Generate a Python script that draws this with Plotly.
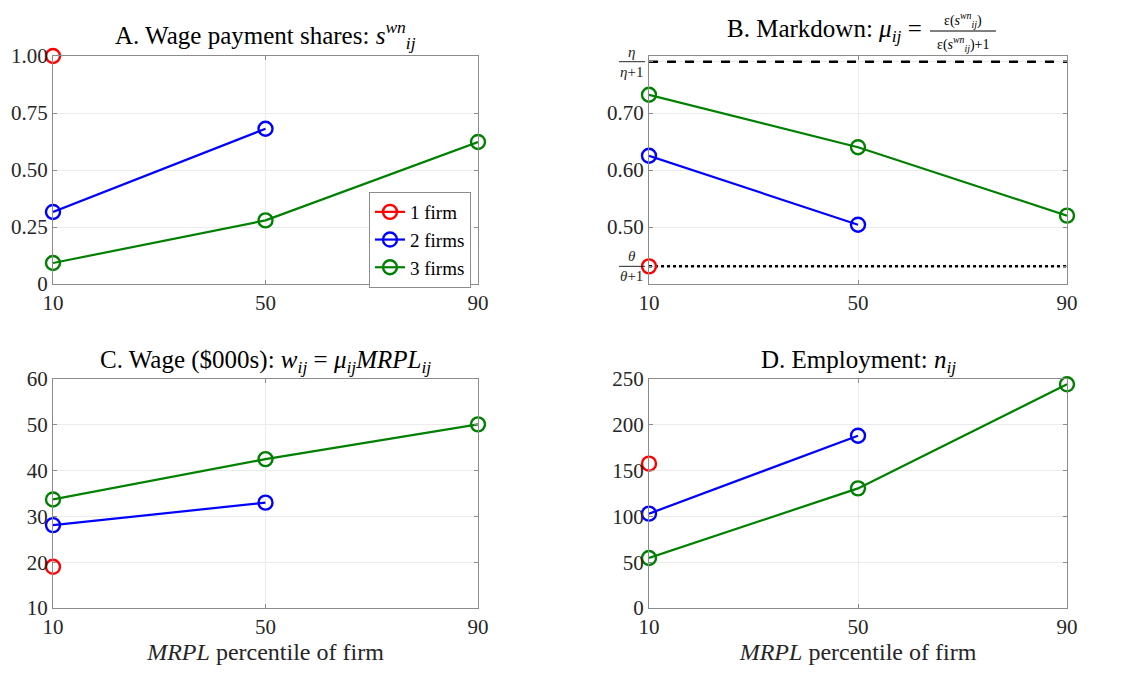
import plotly.graph_objects as go

# ---------------- data ----------------
percentiles = [10, 50, 90]
x_ticks = [10, 50, 90]

# Panel A: wage payment shares
shares_1 = [1.00]
shares_2 = [0.316, 0.681]
shares_3 = [0.092, 0.279, 0.623]

# Panel B: markdown
markdown_1 = [0.431]
markdown_2 = [0.625, 0.504]
markdown_3 = [0.732, 0.640, 0.520]
eta_bound = 0.79
theta_bound = 0.431

# Panel C: wage ($000s)
wage_1 = [19.0]
wage_2 = [28.1, 33.0]
wage_3 = [33.7, 42.5, 50.1]

# Panel D: employment
emp_1 = [157.6]
emp_2 = [103.0, 188.1]
emp_3 = [54.6, 130.6, 244.2]

series_names = ["1 firm", "2 firms", "3 firms"]
colors = ["#ff0000", "#0000ff", "#008000"]

FONT = "Liberation Serif"
OFF = 8                     # page body margin
W, H = 1129 - OFF, 673 - OFF

fig = go.Figure()

panels = [
    ("x", "y", [shares_1, shares_2, shares_3]),
    ("x2", "y2", [markdown_1, markdown_2, markdown_3]),
    ("x3", "y3", [wage_1, wage_2, wage_3]),
    ("x4", "y4", [emp_1, emp_2, emp_3]),
]

# reference lines in panel B
fig.add_trace(go.Scatter(x=[percentiles[0], percentiles[-1]], y=[eta_bound, eta_bound],
                         mode="lines", line=dict(color="black", width=2.5, dash="dash"),
                         xaxis="x2", yaxis="y2", showlegend=False, hoverinfo="skip"))
fig.add_trace(go.Scatter(x=[percentiles[0], percentiles[-1]], y=[theta_bound, theta_bound],
                         mode="lines", line=dict(color="black", width=2.5, dash="dot"),
                         xaxis="x2", yaxis="y2", showlegend=False, hoverinfo="skip"))

for pi, (xa, ya, data) in enumerate(panels):
    for si, vals in enumerate(data):
        fig.add_trace(go.Scatter(
            x=percentiles[:len(vals)], y=vals, mode="lines+markers",
            name=series_names[si],
            line=dict(color=colors[si], width=2.2),
            marker=dict(symbol="circle-open", size=14, color=colors[si],
                        line=dict(width=2.4, color=colors[si])),
            xaxis=xa, yaxis=ya, showlegend=(pi == 0), cliponaxis=False))


def px(a):
    return (a - OFF) / W


def py(a):
    return 1 - (a - OFF) / H


def dx(a, b):
    return [px(a), px(b)]


def dy(top, bot):
    return [py(bot), py(top)]


axis_common = dict(showline=True, linecolor="#8c8c8c", linewidth=1, mirror="allticks",
                   ticks="inside", ticklen=4, tickcolor="#8c8c8c", automargin=False,
                   showgrid=True, gridcolor="#ebebeb", gridwidth=1,
                   zeroline=False, tickfont=dict(family=FONT, size=21, color="#262626"))

xcommon = dict(axis_common, range=[10, 90], tickvals=x_ticks, ticktext=[str(t) for t in x_ticks])
xtitle = dict(text="<i>MRPL</i> percentile of firm", font=dict(family=FONT, size=24, color="#262626"),
              standoff=4)

fig.update_layout(
    template="none",
    width=W, height=H,
    margin=dict(l=0, r=0, t=0, b=0, autoexpand=False),
    paper_bgcolor="white", plot_bgcolor="white",
    font=dict(family=FONT, size=18, color="black"),
    xaxis=dict(xcommon, domain=dx(53, 478), anchor="y"),
    yaxis=dict(axis_common, domain=dy(56, 284), anchor="x", range=[0, 1.0],
               tickvals=[0, 0.25, 0.5, 0.75, 1.0], ticktext=["0", "0.25", "0.50", "0.75", "1.00"]),
    xaxis2=dict(xcommon, domain=dx(649, 1067), anchor="y2"),
    yaxis2=dict(axis_common, domain=dy(56, 284), anchor="x2", range=[0.40, 0.80],
                tickvals=[theta_bound, 0.5, 0.6, 0.7, eta_bound],
                ticktext=["", "0.50", "0.60", "0.70", ""]),
    xaxis3=dict(xcommon, domain=dx(53, 478), anchor="y3", title=xtitle),
    yaxis3=dict(axis_common, domain=dy(379, 608), anchor="x3", range=[10, 60],
                tickvals=[10, 20, 30, 40, 50, 60]),
    xaxis4=dict(xcommon, domain=dx(649, 1067), anchor="y4", title=xtitle),
    yaxis4=dict(axis_common, domain=dy(379, 608), anchor="x4", range=[0, 250],
                tickvals=[0, 50, 100, 150, 200, 250]),
    legend=dict(x=px(471), y=py(192), xanchor="right", yanchor="top",
                bgcolor="white", bordercolor="#8c8c8c", borderwidth=1,
                font=dict(family=FONT, size=19, color="black"),
                itemwidth=30, tracegroupgap=0),
)

TF = dict(family=FONT, size=25, color="black")
titles = [
    (265.5, 35, "A. Wage payment shares: <i>s</i><sup><i>wn</i></sup><sub><i>ij</i></sub>", "center"),
    (924, 31, "B. Markdown: <i>μ</i><sub><i>ij</i></sub> =", "right"),
    (265.5, 361, "C. Wage ($000s): <i>w</i><sub><i>ij</i></sub> = <i>μ</i><sub><i>ij</i></sub><i>MRPL</i><sub><i>ij</i></sub>", "center"),
    (858, 361, "D. Employment: <i>n</i><sub><i>ij</i></sub>", "center"),
]
for x, y, t, anc in titles:
    fig.add_annotation(x=px(x), y=py(y), xref="paper", yref="paper", text=t, showarrow=False,
                       xanchor=anc, yanchor="middle", font=TF)

# stacked fraction in title B
SF = dict(family=FONT, size=14, color="black")
s_wn = "ε(<i>s</i><sup><i>wn</i></sup><sub><i>ij</i></sub>)"
BAR_Y = 31
fig.add_annotation(x=px(963), y=py(BAR_Y), xref="paper", yref="paper", text=s_wn,
                   showarrow=False, xanchor="center", yanchor="bottom", yshift=-1, font=SF)
fig.add_annotation(x=px(963), y=py(BAR_Y), xref="paper", yref="paper", text=s_wn + "+1",
                   showarrow=False, xanchor="center", yanchor="top", yshift=-1, font=SF)
fig.add_shape(type="line", xref="paper", yref="paper", x0=px(930), x1=px(996),
              y0=py(BAR_Y), y1=py(BAR_Y), line=dict(color="black", width=1))

# stacked fraction tick labels in panel B
FF = dict(family=FONT, size=15, color="#262626")
for val, sym in [(eta_bound, "η"), (theta_bound, "θ")]:
    fig.add_annotation(x=px(632), y=val, xref="paper", yref="y2", text="<i>%s</i>" % sym,
                       showarrow=False, xanchor="center", yanchor="bottom", yshift=0, font=FF)
    fig.add_annotation(x=px(632), y=val, xref="paper", yref="y2", text="<i>%s</i>+1" % sym,
                       showarrow=False, xanchor="center", yanchor="top", yshift=0, font=FF)
    fig.add_shape(type="line", xref="paper", yref="y2", x0=px(619), x1=px(645),
                  y0=val, y1=val, line=dict(color="#262626", width=1))

fig.write_html("out.html")
